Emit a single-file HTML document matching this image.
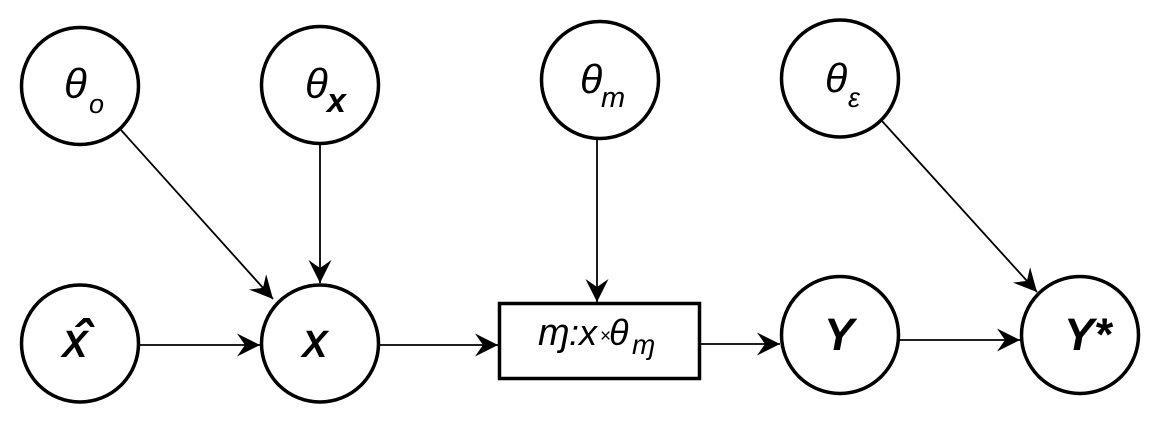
<!DOCTYPE html>
<html>
<head>
<meta charset="utf-8">
<style>
  html, body { margin:0; padding:0; background:#ffffff; }
  body { width:1160px; height:422px; overflow:hidden; }
  svg { display:block; }
  text { font-family: "Liberation Sans", "DejaVu Sans", sans-serif; fill:#000; }
</style>
</head>
<body>
<svg width="1160" height="422" viewBox="0 0 1160 422" xmlns="http://www.w3.org/2000/svg">
  <defs>
    <marker id="ah" markerUnits="userSpaceOnUse" viewBox="-25 -13 27 26" refX="0" refY="0" markerWidth="27" markerHeight="26" orient="auto">
      <path d="M0,0 L-23,-11.5 L-15,0 L-23,11.5 Z" fill="#000"/>
    </marker>
  </defs>

  <!-- connectors -->
  <g stroke="#000" stroke-width="1.8" fill="none">
    <line x1="121" y1="130" x2="273" y2="299" marker-end="url(#ah)"/>
    <line x1="320" y1="144" x2="320" y2="283" marker-end="url(#ah)"/>
    <line x1="597" y1="139" x2="597" y2="302" marker-end="url(#ah)"/>
    <line x1="882" y1="121" x2="1037" y2="292" marker-end="url(#ah)"/>
    <line x1="140" y1="345" x2="260" y2="345" marker-end="url(#ah)"/>
    <line x1="380" y1="345" x2="498" y2="345" marker-end="url(#ah)"/>
    <line x1="701" y1="344" x2="780" y2="344" marker-end="url(#ah)"/>
    <line x1="900" y1="340" x2="1020" y2="340" marker-end="url(#ah)"/>
  </g>

  <!-- nodes -->
  <g stroke="#000" stroke-width="3.5" fill="#fff">
    <circle cx="80" cy="86" r="58.5"/>
    <circle cx="320" cy="85" r="58.5"/>
    <circle cx="600" cy="80" r="58.5"/>
    <circle cx="840" cy="78.5" r="58.5"/>
    <circle cx="80" cy="343.5" r="58.5"/>
    <circle cx="320" cy="343.5" r="58.5"/>
    <circle cx="840" cy="335" r="58.5"/>
    <circle cx="1080" cy="335" r="58.5"/>
    <rect x="499.5" y="303.5" width="200" height="75"/>
  </g>

  <!-- labels -->
  <text x="64" y="98" font-size="42" font-style="italic">θ</text>
  <text x="89" y="113" font-size="27" font-style="italic">o</text>

  <text x="305" y="98" font-size="42" font-style="italic">θ</text>
  <text x="327" y="112" font-size="34" font-style="italic" font-weight="bold">x</text>

  <text x="580" y="93" font-size="41" font-style="italic">θ</text>
  <text x="601" y="107" font-size="29" font-style="italic">m</text>

  <text x="825" y="92" font-size="41" font-style="italic">θ</text>
  <text x="848" y="107" font-size="27" font-style="italic">ε</text>

  <text x="62" y="357" font-size="38" font-style="italic" font-weight="bold">X</text>
  <text x="82" y="358" font-size="54" font-style="italic" font-weight="bold" text-anchor="middle">ˆ</text>

  <text x="302" y="357" font-size="38" font-style="italic" font-weight="bold">X</text>

  <text x="824" y="350" font-size="45" font-style="italic" font-weight="bold">Y</text>
  <text x="1064" y="350" font-size="45" font-style="italic" font-weight="bold">Y*</text>

  <text x="538" y="345" font-size="38" font-style="italic">ɱ</text>
  <text x="569" y="345" font-size="36" font-style="italic">:</text>
  <text x="579" y="345" font-size="36" font-style="italic">x</text>
  <text x="600" y="342" font-size="19">×</text>
  <text x="609" y="345" font-size="36" font-style="italic">θ</text>
  <text x="632" y="354" font-size="28" font-style="italic">ɱ</text>
</svg>
</body>
</html>
